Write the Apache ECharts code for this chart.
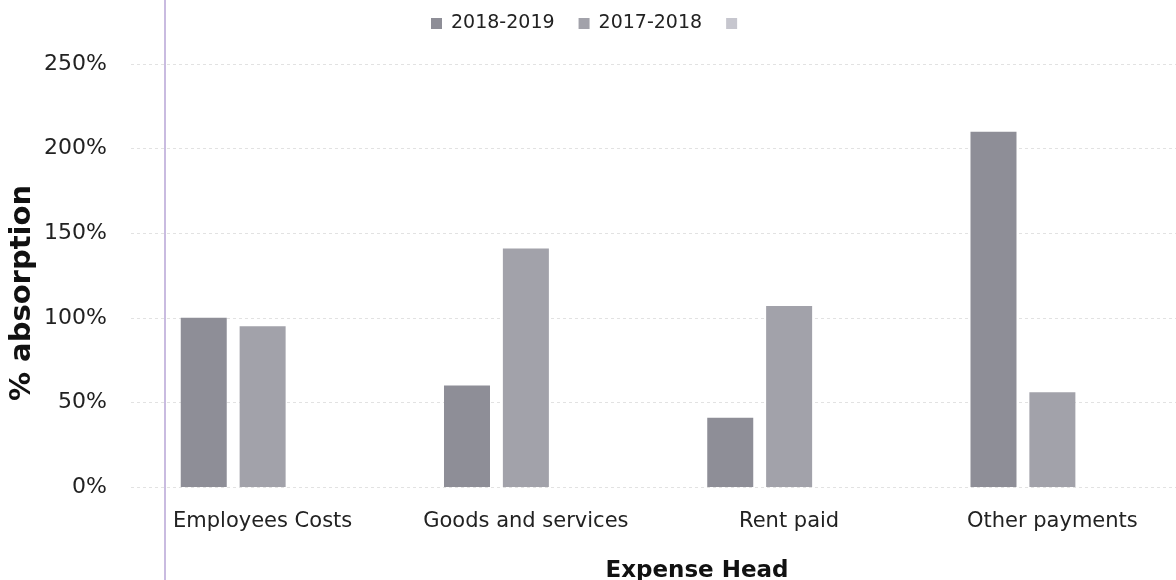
<!DOCTYPE html>
<html>
<head>
<meta charset="utf-8">
<script src="https://cdn.jsdelivr.net/npm/echarts@6/dist/echarts.min.js"></script>
<style>html,body{margin:0;padding:0;background:#fff;overflow:hidden}#c{width:1190px;height:580px}</style>
</head>
<body>
<div id="c"></div>
<script>
const categories = ['Employees Costs', 'Goods and services', 'Rent paid', 'Other payments'];
const seriesNames = ['2018-2019', '2017-2018', ' '];
const values2018_2019 = [100, 60, 41, 210];
const values2017_2018 = [95, 141, 107, 56];
const valuesThird = [0, 0, 0, 0];
const yTicks = [0, 50, 100, 150, 200, 250];
const colors = ['#8e8e97', '#a2a2aa', '#c6c6ce'];

const chart = echarts.init(document.getElementById('c'), null, {renderer: 'canvas'});
const font = 'DejaVu Sans';
chart.setOption({
  animation: false,
  color: colors,
  grid: {left: 131, top: 64, width: 1053, height: 423, containLabel: false},
  legend: {
    data: seriesNames,
    left: 431, top: 14, padding: 0,
    itemWidth: 11, itemHeight: 11, itemGap: 24,
    icon: 'rect',
    textStyle: {fontFamily: font, fontSize: 19, color: '#222', padding: [0, 0, 0, 4]}
  },
  xAxis: {
    type: 'category',
    data: categories,
    axisLine: {show: false},
    axisTick: {show: false},
    axisLabel: {interval: 0, hideOverlap: false, fontFamily: font, fontSize: 21, color: '#222', margin: 24},
    splitLine: {show: false}
  },
  yAxis: {
    type: 'value',
    min: yTicks[0], max: yTicks[yTicks.length - 1], interval: 50,
    axisLine: {show: false},
    axisTick: {show: false},
    axisLabel: {fontFamily: font, fontSize: 22, color: '#222', margin: 24, formatter: v => v + '%'},
    splitLine: {lineStyle: {color: '#e2e2e2', type: [3, 3], width: 1}}
  },
  graphic: [
    {type: 'line', shape: {x1: 165, y1: 0, x2: 165, y2: 580}, style: {stroke: '#c9bbe0', lineWidth: 2}, z: 10},
    {type: 'text', x: 22, y: 293, rotation: Math.PI / 2,
     style: {text: '% absorption', fontFamily: font, fontWeight: 'bold', fontSize: 29, fill: '#111', align: 'center', verticalAlign: 'middle'}},
    {type: 'text', x: 697, y: 571,
     style: {text: 'Expense Head', fontFamily: font, fontWeight: 'bold', fontSize: 23, fill: '#111', align: 'center', verticalAlign: 'middle'}}
  ],
  series: [
    {name: seriesNames[0], type: 'bar', data: values2018_2019, barWidth: 46, barGap: '28%'},
    {name: seriesNames[1], type: 'bar', data: values2017_2018, barWidth: 46, barGap: '28%'},
    {name: seriesNames[2], type: 'bar', data: valuesThird, barWidth: 46, barGap: '28%'}
  ]
});
</script>
</body>
</html>
